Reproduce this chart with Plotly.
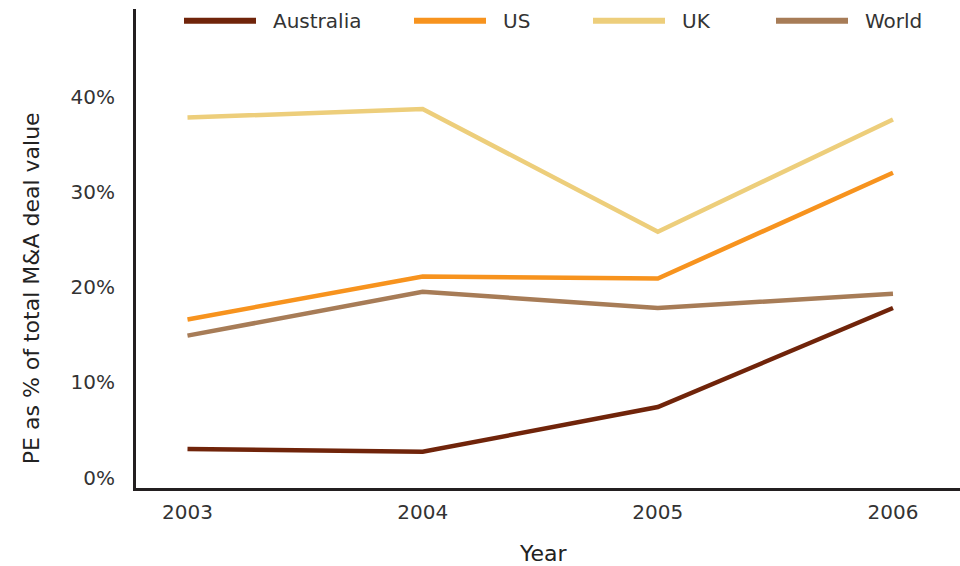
import plotly.graph_objects as go

years = [2003, 2004, 2005, 2006]
series_names = ["Australia", "US", "UK", "World"]
australia = [3.0, 2.7, 7.4, 17.8]
us = [16.6, 21.1, 20.9, 32.0]
uk = [37.8, 38.7, 25.8, 37.6]
world = [14.9, 19.5, 17.8, 19.3]
y_ticks = [0, 10, 20, 30, 40]
y_tick_labels = ["0%", "10%", "20%", "30%", "40%"]
y_title = "PE as % of total M&A deal value"
x_title = "Year"

colors = ["#70240A", "#F7931E", "#EDCE7B", "#A77C57"]
values = [australia, us, uk, world]

W, H = 960, 566
L, R, T, B = 136, 0, 9, 77.5
pw, ph = W - L - R, H - T - B

def px_x(p):
    return (p - L) / pw

def px_y(p):
    return (H - B - p) / ph

FONT = "DejaVu Sans"
fig = go.Figure()
for name, vals, c in zip(series_names, values, colors):
    fig.add_trace(go.Scatter(x=years, y=vals, mode="lines", name=name,
                             line=dict(color=c, width=4.5), showlegend=False))

# custom legend
shapes = []
annotations = []
leg_starts = [184, 414, 593, 776]
leg_y = 20.7
for name, c, sx in zip(series_names, colors, leg_starts):
    shapes.append(dict(type="line", xref="paper", yref="paper",
                       x0=px_x(sx), x1=px_x(sx + 72), y0=px_y(leg_y), y1=px_y(leg_y),
                       line=dict(color=c, width=6)))
    annotations.append(dict(text=name, xref="paper", yref="paper",
                            x=px_x(sx + 87), y=px_y(leg_y), xanchor="left", yanchor="middle",
                            showarrow=False, font=dict(family=FONT, size=20, color="#333333")))

annotations.append(dict(text=y_title, xref="paper", yref="paper", x=px_x(31), y=px_y(288.5),
                        xanchor="center", yanchor="middle", textangle=-90, showarrow=False,
                        font=dict(family=FONT, size=22, color="#222222")))
annotations.append(dict(text=x_title, xref="paper", yref="paper", x=px_x(543), y=px_y(554),
                        xanchor="center", yanchor="middle", showarrow=False,
                        font=dict(family=FONT, size=22, color="#222222")))

fig.update_layout(
    width=W, height=H,
    margin=dict(l=L, r=R, t=T, b=B, pad=0),
    paper_bgcolor="white", plot_bgcolor="white",
    shapes=shapes, annotations=annotations,
    xaxis=dict(range=[2002.781, 2006.285], tickvals=years, ticktext=[str(y) for y in years],
               showgrid=False, zeroline=False, showline=True, linecolor="#231F20", linewidth=3,
               ticks="", ticklabelstandoff=4,
               tickfont=dict(family=FONT, size=20, color="#333333")),
    yaxis=dict(range=[-1.1, 49.2], tickvals=y_ticks, ticktext=y_tick_labels,
               showgrid=False, zeroline=False, showline=True, linecolor="#231F20", linewidth=3,
               ticks="", ticklabelstandoff=14,
               tickfont=dict(family=FONT, size=20, color="#333333")),
)

fig.write_html("out.html", config={"displayModeBar": False},
               post_script="document.body.style.margin='0';")
